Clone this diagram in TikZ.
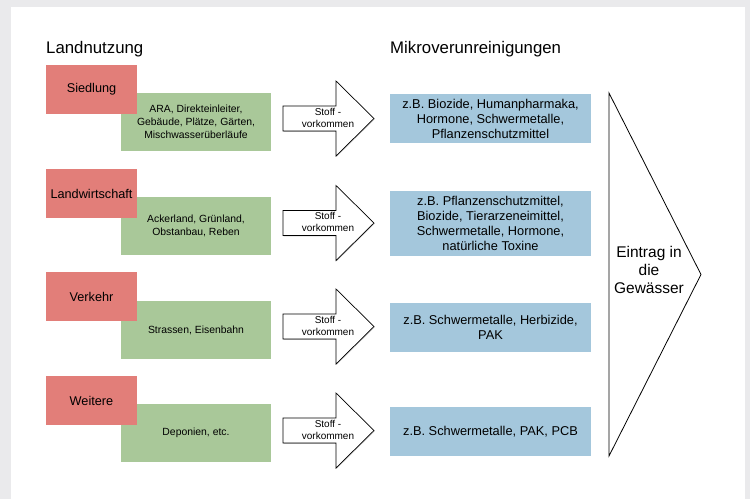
\documentclass[tikz,border=0pt]{standalone}
\usepackage{fontspec}
\setmainfont{Liberation Sans}
\usepackage{tikz}
\usetikzlibrary{positioning, shadows}
\usepackage{xcolor}
\definecolor{nutzungrot}{RGB}{226,126,121}
\definecolor{quellgruen}{RGB}{169,200,153}
\definecolor{stoffblau}{RGB}{164,199,220}
\definecolor{randgrau}{RGB}{234,234,236}

\begin{document}
\begin{tikzpicture}[x=1pt,y=-1pt,
    nutzung/.style={fill=nutzungrot,minimum width=91pt,minimum height=49pt,inner sep=0pt,font=\fontsize{12.7}{15}\selectfont},
    quelle/.style={fill=quellgruen,minimum width=150pt,minimum height=58pt,inner sep=0pt,align=center,font=\fontsize{10.4}{13}\selectfont},
    stoff/.style={fill=stoffblau,minimum width=201pt,minimum height=49pt,inner sep=0pt,align=center,font=\fontsize{12.8}{15}\selectfont},
    titel/.style={anchor=base west,inner sep=0pt,font=\fontsize{16.8}{20}\selectfont},
    pics/stoffpfeil/.style={code={
        \draw[line width=0.7pt,fill=white,drop shadow={shadow xshift=0.6pt,shadow yshift=-0.8pt,fill=black!45}]
            (0,-12.5) -- (53,-12.5) -- (53,-37.5) -- (91,0) -- (53,37.5) -- (53,12.5) -- (0,12.5) -- cycle;
        \node[align=center,inner sep=0pt,font=\fontsize{10}{12}\selectfont] (-text) at (45,-1) {Stoff -\\vorkommen};
    }}]
    \fill[randgrau] (0,0) rectangle (750,499);
    \fill[white] (11,7) rectangle (745,499);

    \node[titel] (landnutzung) at (46,53) {Landnutzung};
    \node[titel] (mikro) at (390,53) {Mikroverunreinigungen};

    % Siedlung
    \node[quelle] (q1) at (196,122) {ARA, Direkteinleiter,\\Gebäude, Plätze, Gärten,\\Mischwasserüberläufe};
    \node[nutzung] (n1) at (91.5,89.5) {Siedlung};
    \pic (p1) at (283,118.5) {stoffpfeil};
    \node[stoff] (s1) at (490.5,118.5) {z.B. Biozide, Humanpharmaka,\\Hormone, Schwermetalle,\\Pflanzenschutzmittel};

    % Landwirtschaft
    \node[quelle] (q2) at (196,226) {Ackerland, Grünland,\\Obstanbau, Reben};
    \node[nutzung] (n2) at (91.5,193.5) {Landwirtschaft};
    \pic (p2) at (283,223) {stoffpfeil};
    \node[stoff,minimum height=65pt] (s2) at (490.5,223.5) {z.B. Pflanzenschutzmittel,\\Biozide, Tierarzeneimittel,\\Schwermetalle, Hormone,\\natürliche Toxine};

    % Verkehr
    \node[quelle] (q3) at (196,330) {Strassen, Eisenbahn};
    \node[nutzung] (n3) at (91.5,296.5) {Verkehr};
    \pic (p3) at (283,326.5) {stoffpfeil};
    \node[stoff] (s3) at (490.5,327.5) {z.B. Schwermetalle, Herbizide,\\PAK};

    % Weitere
    \node[quelle] (q4) at (196,433) {Deponien, etc.};
    \node[nutzung] (n4) at (91.5,400.5) {Weitere};
    \pic (p4) at (283,430.5) {stoffpfeil};
    \node[stoff] (s4) at (490.5,431.5) {z.B. Schwermetalle, PAK, PCB};

    \draw[line width=0.8pt] (609,93) -- (701,274.5) -- (609,456) -- cycle;
    \node[align=center,inner sep=0pt,font=\fontsize{15.5}{18}\selectfont] (eintrag) at (649,270) {Eintrag in\\die\\Gewässer};
\end{tikzpicture}
\end{document}
